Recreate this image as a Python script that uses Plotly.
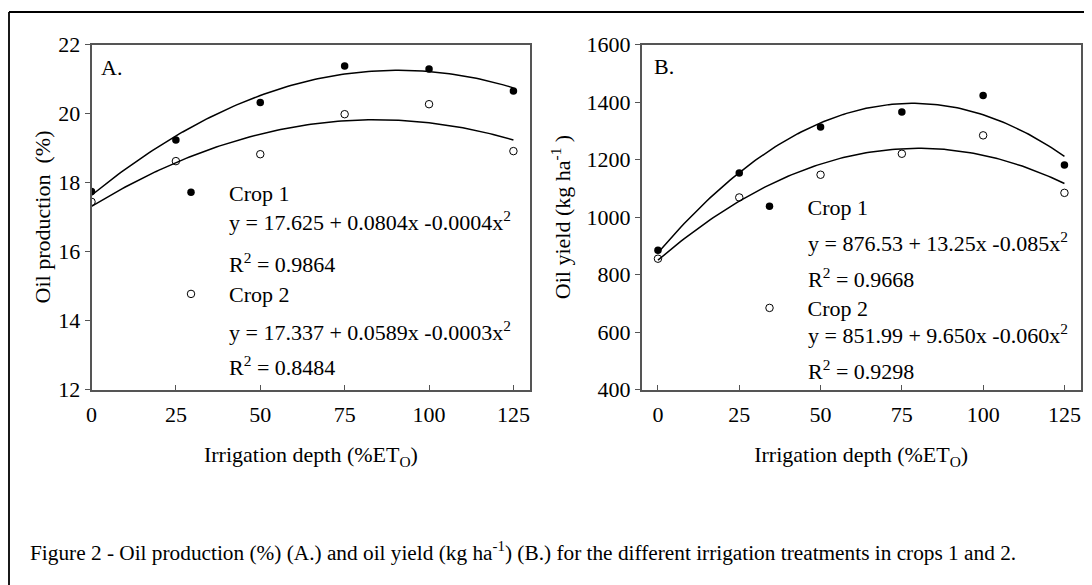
import numpy as np
import plotly.graph_objects as go

W, H = 1092, 585
FONT = "Liberation Serif"
OFF = 8  # page body margin offset compensation

# ---- data ----
irrigation = [0, 25, 50, 75, 100, 125]
oil_prod_crop1 = [17.74, 19.23, 20.32, 21.38, 21.29, 20.65]
oil_prod_crop2 = [17.44, 18.62, 18.82, 19.98, 20.27, 18.91]
oil_yield_crop1 = [884, 1153, 1313, 1365, 1423, 1181]
oil_yield_crop2 = [855, 1068, 1147, 1220, 1284, 1084]
x_ticks = [0, 25, 50, 75, 100, 125]
y_ticks_a = [12, 14, 16, 18, 20, 22]
y_ticks_b = [400, 600, 800, 1000, 1200, 1400, 1600]

eq_a = ["y = 17.625 + 0.0804x -0.0004x<sup>2</sup>", "R<sup>2</sup> = 0.9864",
        "y = 17.337 + 0.0589x -0.0003x<sup>2</sup>", "R<sup>2</sup> = 0.8484"]
eq_b = ["y = 876.53 + 13.25x -0.085x<sup>2</sup>", "R<sup>2</sup> = 0.9668",
        "y = 851.99 + 9.650x -0.060x<sup>2</sup>", "R<sup>2</sup> = 0.9298"]

def px(x):
    return (x - OFF) / W

def py(y):
    return 1 - (y - OFF) / H

fig = go.Figure()

xfit = np.linspace(min(irrigation), max(irrigation), 126)

def add_panel(ys1, ys2, xa, ya, legend):
    for ys in (ys1, ys2):
        coef = np.polyfit(irrigation, ys, 2)
        fig.add_trace(go.Scatter(x=xfit, y=np.polyval(coef, xfit), mode="lines",
                                 line=dict(color="black", width=1.5),
                                 xaxis=xa, yaxis=ya, showlegend=False, hoverinfo="skip"))
    fig.add_trace(go.Scatter(x=irrigation, y=ys1, mode="markers", name="Crop 1",
                             marker=dict(symbol="circle", size=7.5, color="black"),
                             xaxis=xa, yaxis=ya, legend=legend, legendgroup=legend + "c1"))
    fig.add_trace(go.Scatter(x=irrigation, y=ys2, mode="markers", name="Crop 2",
                             marker=dict(symbol="circle-open", size=7.5, color="black",
                                         line=dict(width=1, color="black")),
                             xaxis=xa, yaxis=ya, legend=legend, legendgroup=legend + "c2"))

add_panel(oil_prod_crop1, oil_prod_crop2, "x", "y", "legend")
add_panel(oil_yield_crop1, oil_yield_crop2, "x2", "y2", "legend2")

ydom = [py(389.5), py(44.5)]
axis_common = dict(showline=True, mirror=True, linecolor="#555555", linewidth=1.5,
                   showgrid=False, zeroline=False, ticks="outside", ticklen=5,
                   tickcolor="#555555", tickwidth=1.2,
                   tickfont=dict(family=FONT, size=22, color="black"))

xtitle = dict(text="Irrigation depth (%ET<sub>O</sub>)", font=dict(family=FONT, size=22, color="black"), standoff=21)

legend_common = dict(xanchor="left", yanchor="top", bgcolor="rgba(0,0,0,0)",
                     font=dict(family=FONT, size=22, color="black"),
                     itemwidth=66, tracegroupgap=70, traceorder="grouped")

fig.update_layout(
    width=W, height=H, margin=dict(l=0, r=0, t=0, b=0, pad=0, autoexpand=False),
    paper_bgcolor="white", plot_bgcolor="white",
    font=dict(family=FONT, color="black"),
    xaxis=dict(axis_common, domain=[px(91.5), px(530.3)], range=[0, 130],
               tickvals=x_ticks, ticks="inside", anchor="y", title=xtitle, ticklabelstandoff=4),
    yaxis=dict(axis_common, domain=ydom, range=[12, 22], tickvals=y_ticks_a, anchor="x",
               title=dict(text="Oil production  (%)", font=dict(family=FONT, size=22, color="black"), standoff=2)),
    xaxis2=dict(axis_common, domain=[px(641.7), px(1080.7)], range=[-5, 130],
                tickvals=x_ticks, ticks="inside", anchor="y2", title=xtitle, ticklabelstandoff=4),
    yaxis2=dict(axis_common, domain=ydom, range=[400, 1600], tickvals=y_ticks_b, anchor="x2",
                title=dict(text="Oil yield (kg ha<sup>-1</sup> )", font=dict(family=FONT, size=22, color="black"), standoff=10)),
    legend=dict(legend_common, x=px(153), y=py(171.5)),
    legend2=dict(legend_common, x=px(731.5), y=py(185.5)),
    showlegend=True,
)

ann = []
def txt(text, x, y, size=22, xanchor="left"):
    ann.append(dict(text=text, x=px(x), y=py(y), xref="paper", yref="paper",
                    xanchor=xanchor, yanchor="middle", showarrow=False,
                    font=dict(family=FONT, size=size, color="black")))

for t, y in zip(eq_a, [220.5, 263.3, 331, 366]):
    txt(t, 227, y)
for t, y in zip(eq_b, [241.5, 278.3, 334, 370]):
    txt(t, 806, y)
txt("A.", 99, 67.7)
txt("B.", 652, 66.7)
txt("Figure 2 - Oil production (%) (A.) and oil yield (kg ha<sup>-1</sup>) (B.) for the different irrigation treatments in crops 1 and 2.",
    28.3, 551.7, size=21.3)
fig.update_layout(annotations=ann)

# outer frame (top and left edges visible)
fig.add_shape(type="line", xref="paper", yref="paper", x0=px(9), x1=1.02, y0=py(12), y1=py(12),
              line=dict(color="black", width=1.8))
fig.add_shape(type="line", xref="paper", yref="paper", x0=px(9), x1=px(9), y0=py(12), y1=-0.02,
              line=dict(color="black", width=1.8))

fig.write_html("out.html")
